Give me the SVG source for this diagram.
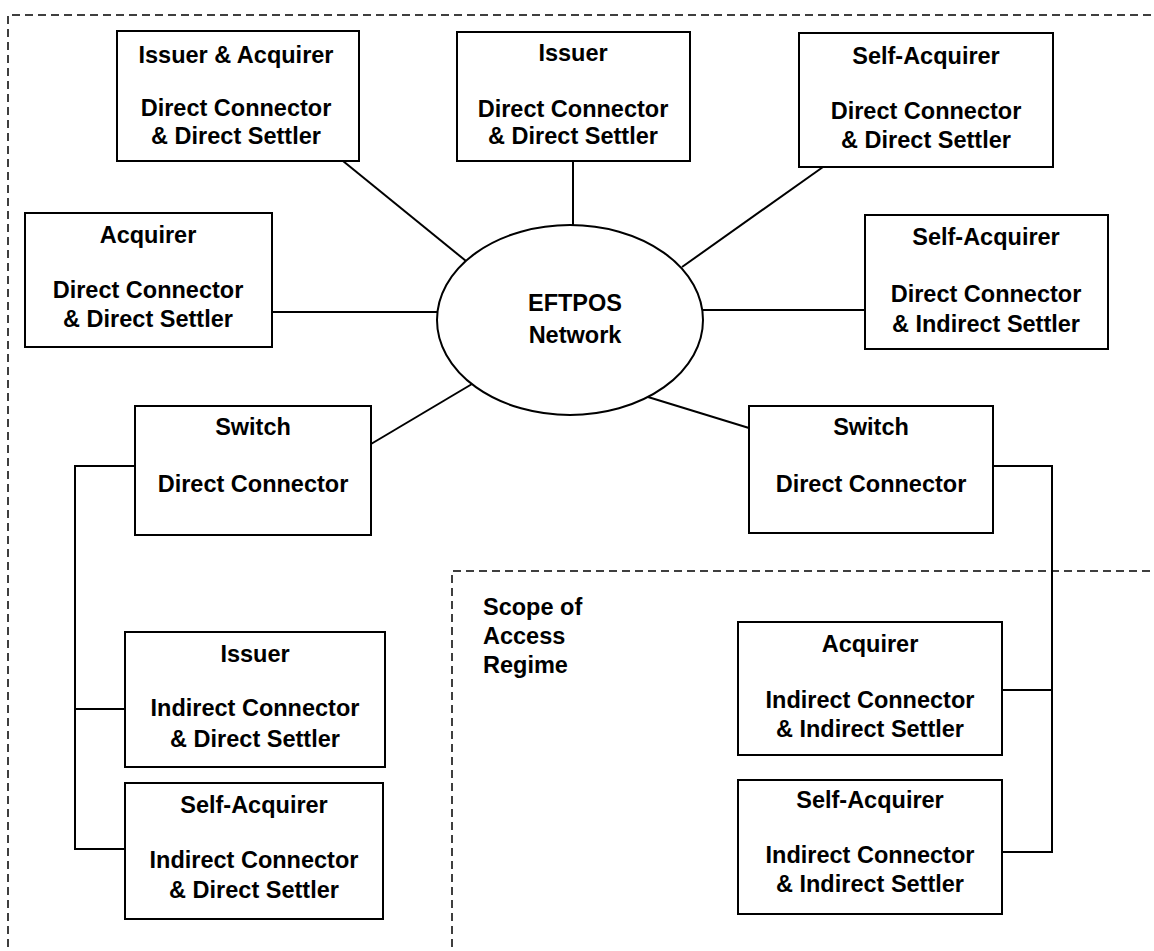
<svg xmlns="http://www.w3.org/2000/svg" width="1154" height="951" viewBox="0 0 1154 951">
<style>
.box{fill:#fff;stroke:#000;stroke-width:2}
.t{font-family:"Liberation Sans",Arial,sans-serif;font-weight:bold;font-size:23.5px;fill:#000;text-anchor:middle}
.tl{font-family:"Liberation Sans",Arial,sans-serif;font-weight:bold;font-size:23.5px;fill:#000}
.ln{fill:none;stroke:#000;stroke-width:2}
.dash{fill:none;stroke:#000;stroke-width:1.5;stroke-dasharray:8 5}
</style>
<rect width="1154" height="951" fill="#fff"/>
<g id="regions">
<path class="dash" d="M8,960 V15 H1160"/>
<path class="dash" d="M452,960 V571 H1160"/>
<text class="tl" x="483" y="615">Scope of</text>
<text class="tl" x="483" y="644">Access</text>
<text class="tl" x="483" y="673">Regime</text>
</g>
<g id="connectors">
<line class="ln" x1="343" y1="161" x2="466" y2="261"/>
<line class="ln" x1="573" y1="161" x2="573" y2="225"/>
<line class="ln" x1="823" y1="167" x2="682" y2="267"/>
<line class="ln" x1="272" y1="312" x2="438" y2="312"/>
<line class="ln" x1="703" y1="310" x2="865" y2="310"/>
<line class="ln" x1="371" y1="444" x2="472" y2="384"/>
<line class="ln" x1="648" y1="397" x2="749" y2="428"/>
<path class="ln" d="M135,466 H75 V849 H125"/>
<line class="ln" x1="75" y1="709" x2="125" y2="709"/>
<path class="ln" d="M993,466 H1052 V852 H999"/>
<line class="ln" x1="1002" y1="690" x2="1052" y2="690"/>
</g>
<g id="eftpos">
<ellipse class="box" cx="570" cy="320" rx="133" ry="95"/>
<text class="t" x="575" y="311">EFTPOS</text>
<text class="t" x="575" y="343">Network</text>
</g>
<g id="issuer-acquirer">
<rect class="box" x="117" y="31" width="242" height="130"/>
<text class="t" x="236" y="63">Issuer &amp; Acquirer</text>
<text class="t" x="236" y="116">Direct Connector</text>
<text class="t" x="236" y="144">&amp; Direct Settler</text>
</g>
<g id="issuer-top">
<rect class="box" x="457" y="32" width="233" height="129"/>
<text class="t" x="573" y="61">Issuer</text>
<text class="t" x="573" y="117">Direct Connector</text>
<text class="t" x="573" y="144">&amp; Direct Settler</text>
</g>
<g id="self-acquirer-top">
<rect class="box" x="799" y="33" width="254" height="134"/>
<text class="t" x="926" y="64">Self-Acquirer</text>
<text class="t" x="926" y="119">Direct Connector</text>
<text class="t" x="926" y="148">&amp; Direct Settler</text>
</g>
<g id="acquirer-left">
<rect class="box" x="25" y="213" width="247" height="134"/>
<text class="t" x="148" y="243">Acquirer</text>
<text class="t" x="148" y="298">Direct Connector</text>
<text class="t" x="148" y="327">&amp; Direct Settler</text>
</g>
<g id="self-acquirer-right">
<rect class="box" x="865" y="215" width="243" height="134"/>
<text class="t" x="986" y="245">Self-Acquirer</text>
<text class="t" x="986" y="302">Direct Connector</text>
<text class="t" x="986" y="332">&amp; Indirect Settler</text>
</g>
<g id="switch-left">
<rect class="box" x="135" y="406" width="236" height="129"/>
<text class="t" x="253" y="435">Switch</text>
<text class="t" x="253" y="492">Direct Connector</text>
</g>
<g id="switch-right">
<rect class="box" x="749" y="406" width="244" height="127"/>
<text class="t" x="871" y="435">Switch</text>
<text class="t" x="871" y="492">Direct Connector</text>
</g>
<g id="issuer-bottom">
<rect class="box" x="125" y="632" width="260" height="135"/>
<text class="t" x="255" y="662">Issuer</text>
<text class="t" x="255" y="716">Indirect Connector</text>
<text class="t" x="255" y="747">&amp; Direct Settler</text>
</g>
<g id="self-acquirer-bottom-left">
<rect class="box" x="125" y="783" width="258" height="136"/>
<text class="t" x="254" y="813">Self-Acquirer</text>
<text class="t" x="254" y="868">Indirect Connector</text>
<text class="t" x="254" y="898">&amp; Direct Settler</text>
</g>
<g id="acquirer-right">
<rect class="box" x="738" y="622" width="264" height="133"/>
<text class="t" x="870" y="652">Acquirer</text>
<text class="t" x="870" y="708">Indirect Connector</text>
<text class="t" x="870" y="737">&amp; Indirect Settler</text>
</g>
<g id="self-acquirer-bottom-right">
<rect class="box" x="738" y="780" width="264" height="134"/>
<text class="t" x="870" y="808">Self-Acquirer</text>
<text class="t" x="870" y="863">Indirect Connector</text>
<text class="t" x="870" y="892">&amp; Indirect Settler</text>
</g>
</svg>
